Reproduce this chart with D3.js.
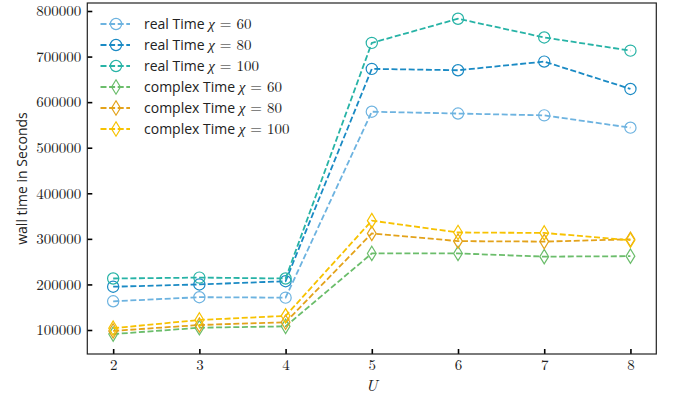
<!DOCTYPE html>
<html>
<head>
<meta charset="utf-8">
<script src="https://cdn.jsdelivr.net/npm/d3@7"></script>
<style>
  html, body { margin: 0; padding: 0; background: #fff; }
  svg { display: block; }
</style>
</head>
<body>
<svg id="chart" width="675" height="397"></svg>
<script>
// Hubbard U values on the x axis
const uValues = [2, 3, 4, 5, 6, 7, 8];

// Wall time (seconds) per bond dimension chi
const realChi60   = [163000, 172000, 171000, 579000, 575000, 571000, 544000];
const realChi80   = [195000, 200000, 207000, 673000, 670000, 689000, 629000];
const realChi100  = [213000, 215000, 213000, 730000, 783000, 742000, 713000];
const complexChi60  = [91000, 105000, 108000, 268000, 268000, 261000, 262000];
const complexChi80  = [98000, 111000, 117000, 312000, 295000, 294000, 299000];
const complexChi100 = [104000, 122000, 131000, 340000, 314000, 313000, 297000];

const yTicks = [100000, 200000, 300000, 400000, 500000, 600000, 700000, 800000];

const seriesList = [
  { kind: "real",    chi: 60,  values: realChi60,     color: "#6db3e0", marker: "circle" },
  { kind: "real",    chi: 80,  values: realChi80,     color: "#1a8ac4", marker: "circle" },
  { kind: "real",    chi: 100, values: realChi100,    color: "#27b3a6", marker: "circle" },
  { kind: "complex", chi: 60,  values: complexChi60,  color: "#6bbd6b", marker: "diamond" },
  { kind: "complex", chi: 80,  values: complexChi80,  color: "#e3a21a", marker: "diamond" },
  { kind: "complex", chi: 100, values: complexChi100, color: "#f7c200", marker: "diamond" }
];

const svg = d3.select("#chart");
const plot = { left: 87.3, right: 656.3, top: 3, bottom: 354 };

const x = d3.scaleLinear().domain([1.7, 8.3]).range([plot.left, plot.right]);
const y = d3.scaleLinear().domain([47335, 817555]).range([plot.bottom, plot.top]);

const serif = "'Latin Modern Roman', 'CMU Serif', 'Liberation Serif', serif";
const sans = "'Open Sans', 'DejaVu Sans', sans-serif";

// axes with inward ticks
const xAxis = d3.axisBottom(x).tickValues(uValues).tickFormat(d3.format("d"))
  .tickSizeInner(-5).tickSizeOuter(0).tickPadding(5);
const yAxis = d3.axisLeft(y).tickValues(yTicks).tickFormat(d3.format("d"))
  .tickSizeInner(-5).tickSizeOuter(0).tickPadding(6);

const gx = svg.append("g").attr("transform", `translate(0,${plot.bottom})`).call(xAxis);
const gy = svg.append("g").attr("transform", `translate(${plot.left},0)`).call(yAxis);
[gx, gy].forEach(g => {
  g.select(".domain").remove();
  g.selectAll(".tick line").attr("stroke", "#000").attr("stroke-width", 1.6);
  g.selectAll(".tick text").attr("fill", "#222").style("font-family", serif).style("font-size", "15px");
});

// data lines and markers
const line = d3.line().x((d, i) => x(uValues[i])).y(d => y(d));

function drawMarker(g, type, color) {
  if (type === "circle") {
    g.append("circle").attr("r", 5.6).attr("fill", "none")
      .attr("stroke", color).attr("stroke-width", 1.2);
  } else {
    g.append("path").attr("d", "M0,-7.2L4.4,0L0,7.2L-4.4,0Z").attr("fill", "none")
      .attr("stroke", color).attr("stroke-width", 1.2);
  }
}

seriesList.forEach(s => {
  svg.append("path").datum(s.values)
    .attr("d", line).attr("fill", "none")
    .attr("stroke", s.color).attr("stroke-width", 1.8)
    .attr("stroke-dasharray", "6,2.6");
  s.values.forEach((v, i) => {
    const g = svg.append("g").attr("transform", `translate(${x(uValues[i])},${y(v)})`);
    drawMarker(g, s.marker, s.color);
  });
});

// frame
svg.append("rect")
  .attr("x", plot.left).attr("y", plot.top)
  .attr("width", plot.right - plot.left).attr("height", plot.bottom - plot.top)
  .attr("fill", "none").attr("stroke", "#222").attr("stroke-width", 1.2);

// legend
const legend = svg.append("g");
seriesList.forEach((s, i) => {
  const ly = 24 + i * 21;
  const row = legend.append("g").attr("transform", `translate(0,${ly})`);
  row.append("line").attr("x1", 100.5).attr("x2", 130).attr("y1", 0).attr("y2", 0)
    .attr("stroke", s.color).attr("stroke-width", 1.8).attr("stroke-dasharray", "6,2.6");
  const m = row.append("g").attr("transform", "translate(116,0)");
  drawMarker(m, s.marker, s.color);
  const t = row.append("text").attr("x", 144).attr("y", 5)
    .attr("fill", "#222").style("font-size", "14px");
  t.append("tspan").style("font-family", sans).text(`${s.kind} Time `);
  t.append("tspan").style("font-family", serif).style("font-style", "italic").style("font-size", "15px").text("χ");
  t.append("tspan").style("font-family", serif).style("font-size", "15px").text(` = ${s.chi}`);
});

// axis titles
svg.append("text")
  .attr("transform", `translate(27,${(plot.top + plot.bottom) / 2}) rotate(-90)`)
  .attr("text-anchor", "middle").attr("fill", "#222")
  .style("font-family", sans).style("font-size", "14px")
  .text("wall time in Seconds");

svg.append("text")
  .attr("x", (plot.left + plot.right) / 2).attr("y", 391)
  .attr("text-anchor", "middle").attr("fill", "#222")
  .style("font-family", serif).style("font-style", "italic").style("font-size", "16px")
  .text("U");
</script>
</body>
</html>
